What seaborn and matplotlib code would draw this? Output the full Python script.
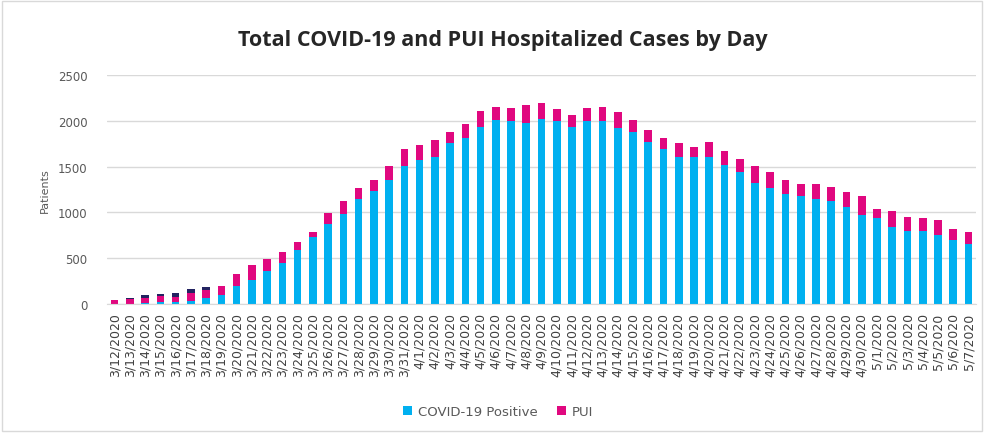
"""Stacked bar chart of COVID-19 and PUI hospitalized cases per day"""

from matplotlib import pyplot as plt
from matplotlib.patches import Rectangle
import seaborn as sns
import numpy as np
import pandas as pd

dates = ['3/12/2020', '3/13/2020', '3/14/2020', '3/15/2020', '3/16/2020',
         '3/17/2020', '3/18/2020', '3/19/2020', '3/20/2020', '3/21/2020',
         '3/22/2020', '3/23/2020', '3/24/2020', '3/25/2020', '3/26/2020',
         '3/27/2020', '3/28/2020', '3/29/2020', '3/30/2020', '3/31/2020',
         '4/1/2020', '4/2/2020', '4/3/2020', '4/4/2020', '4/5/2020',
         '4/6/2020', '4/7/2020', '4/8/2020', '4/9/2020', '4/10/2020',
         '4/11/2020', '4/12/2020', '4/13/2020', '4/14/2020', '4/15/2020',
         '4/16/2020', '4/17/2020', '4/18/2020', '4/19/2020', '4/20/2020',
         '4/21/2020', '4/22/2020', '4/23/2020', '4/24/2020', '4/25/2020',
         '4/26/2020', '4/27/2020', '4/28/2020', '4/29/2020', '4/30/2020',
         '5/1/2020', '5/2/2020', '5/3/2020', '5/4/2020', '5/5/2020',
         '5/6/2020', '5/7/2020']

positive = [0, 0, 10, 18, 18, 36, 62, 102, 197, 266,
            357, 444, 594, 728, 878, 983, 1147, 1234, 1355, 1511,
            1577, 1606, 1759, 1814, 1937, 2010, 1996, 1981, 2025, 1996,
            1937, 1996, 1996, 1919, 1875, 1770, 1697, 1606, 1606, 1606,
            1515, 1442, 1326, 1264, 1205, 1176, 1147, 1129, 1056, 972,
            940, 845, 801, 801, 757, 696, 652]

pui = [40, 58, 52, 65, 62, 85, 92, 95, 135, 154,
       135, 124, 80, 62, 116, 139, 124, 121, 149, 182,
       160, 186, 116, 149, 171, 146, 145, 193, 167, 131,
       131, 145, 160, 182, 135, 135, 117, 149, 106, 168,
       153, 138, 178, 174, 146, 131, 160, 153, 164, 204,
       98, 167, 153, 139, 164, 120, 138]

# dark segment on the first few days (not shown in the legend)
other = [6, 8, 36, 30, 44, 47, 36, 0, 0, 0] + [0] * 47

df = pd.DataFrame({'date': dates, 'positive': positive,
                   'pui': pui, 'other': other})

BLUE = '#00B0F0'
PINK = '#E0087F'
NAVY = '#232361'

sns.set_style('white')
fig = plt.figure(figsize=(9.86, 4.35), dpi=100)
ax = fig.add_axes([0.1085, 0.299, 0.8815, 0.526])

bar_kw = dict(width=0.5, saturation=1, linewidth=0, ax=ax)
sns.barplot(data=df, x='date', y='positive', color=BLUE,
            label='COVID-19 Positive', **bar_kw)
sns.barplot(data=df, x='date', y='pui', color=PINK,
            bottom=df['positive'], label='PUI', **bar_kw)
sns.barplot(data=df, x='date', y='other', color=NAVY,
            bottom=df['positive'] + df['pui'], **bar_kw)

ax.set_ylim(0, 2500)
ax.set_xlim(-0.5, len(dates) - 0.5)
ax.set_yticks(np.arange(0, 2501, 500))
ax.yaxis.grid(True, color='#D9D9D9', linewidth=1)
ax.set_axisbelow(True)
for side in ['top', 'right', 'left']:
    ax.spines[side].set_visible(False)
ax.spines['bottom'].set_color('#D9D9D9')

ax.tick_params(axis='y', labelsize=8.5, colors='#595959', length=0, pad=14)
ax.tick_params(axis='x', labelsize=9, colors='#404040', rotation=90,
               length=4, color='#D9D9D9', direction='out', pad=2)
ax.set_xlabel('')
ax.set_ylabel('Patients', fontsize=8, color='#595959', labelpad=6)

fig.suptitle('Total COVID-19 and PUI Hospitalized Cases by Day',
             x=0.51, y=0.93, fontsize=15.5, fontweight='bold',
             color='#262626', family='Open Sans')

ax.legend(loc='upper center', bbox_to_anchor=(0.45, -0.39), ncol=2,
          frameon=False, fontsize=9.5, handlelength=0.7, handleheight=0.7,
          handletextpad=0.4, columnspacing=1.5, labelcolor='#595959')

fig.patches.append(Rectangle((0.002, 0.006), 0.994, 0.99, transform=fig.transFigure,
                             fill=False, edgecolor='#D9D9D9', linewidth=1))

fig.savefig('out.png', dpi=100)
